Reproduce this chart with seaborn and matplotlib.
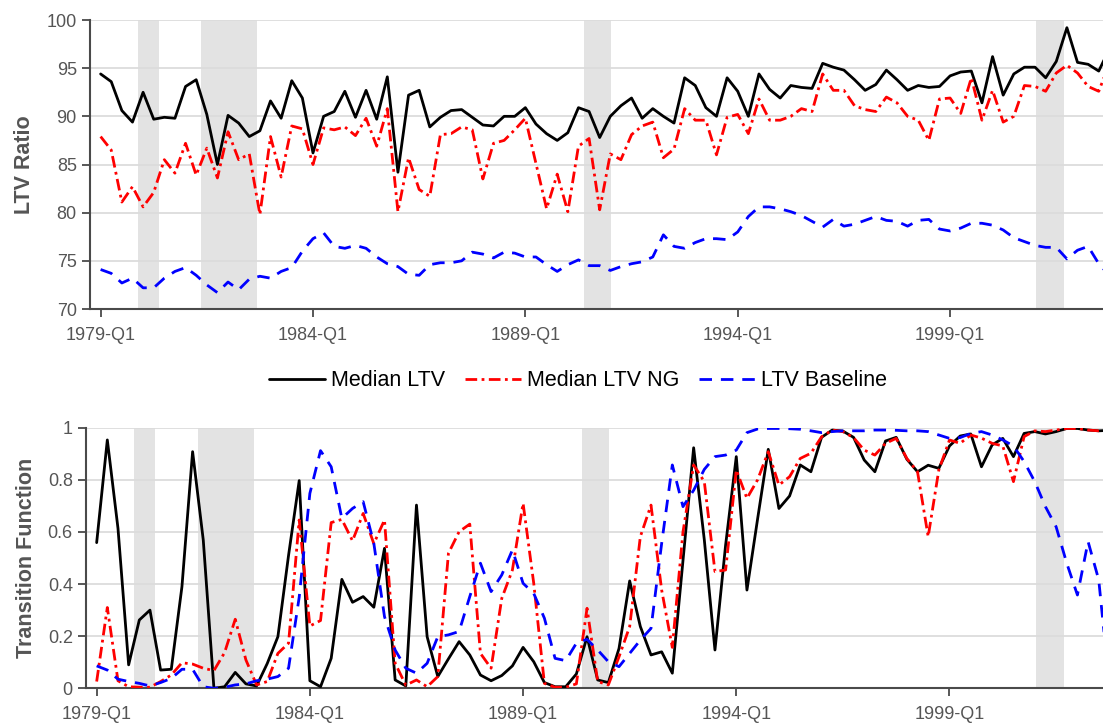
import numpy as np
import pandas as pd
import matplotlib
matplotlib.use("Agg")
import matplotlib.pyplot as plt
import seaborn as sns

# Quarterly series starting 1979-Q1
start_year = 1979

median_ltv = [94.4, 93.6, 90.6, 89.4, 92.5, 89.7, 89.9, 89.8, 93.1, 93.8,
              90.2, 85.0, 90.1, 89.3, 87.9, 88.5, 91.6, 89.8, 93.7, 91.9,
              86.2, 90.0, 90.5, 92.6, 89.9, 92.7, 89.7, 94.1, 84.2, 92.2,
              92.7, 88.9, 89.9, 90.6, 90.7, 89.9, 89.1, 89.0, 90.0, 90.0,
              90.9, 89.2, 88.2, 87.5, 88.3, 90.9, 90.5, 87.8, 90.0, 91.1,
              91.9, 89.8, 90.8, 90.0, 89.3, 94.0, 93.2, 90.9, 90.0, 94.0,
              92.6, 90.0, 94.4, 92.8, 91.9, 93.2, 93.0, 92.9, 95.5, 95.1,
              94.8, 93.8, 92.7, 93.3, 94.8, 93.8, 92.7, 93.2, 93.0, 93.1,
              94.2, 94.6, 94.7, 91.4, 96.2, 92.2, 94.4, 95.1, 95.1, 94.0,
              95.7, 99.2, 95.6, 95.4, 94.7, 97.0]

median_ltv_ng = [87.9, 86.5, 81.1, 82.7, 80.6, 82.1, 85.5, 84.1, 87.2, 83.9,
                 86.7, 83.6, 88.4, 85.5, 86.1, 79.8, 87.9, 83.7, 89.0, 88.7,
                 85.0, 88.8, 88.6, 88.9, 88.0, 89.8, 86.9, 90.8, 80.1, 85.7,
                 82.4, 81.7, 88.1, 88.2, 88.9, 88.6, 83.5, 87.2, 87.5, 88.6,
                 89.8, 85.1, 80.4, 84.0, 80.1, 86.9, 87.7, 80.3, 86.1, 85.5,
                 88.1, 89.0, 89.4, 85.7, 86.6, 90.8, 89.6, 89.6, 86.0, 89.9,
                 90.2, 88.2, 91.8, 89.6, 89.6, 90.0, 90.8, 90.5, 94.4, 92.7,
                 92.7, 91.1, 90.7, 90.5, 92.0, 91.4, 90.0, 89.6, 87.5, 91.8,
                 91.9, 90.3, 94.0, 89.6, 92.7, 89.4, 90.0, 93.2, 93.1, 92.6,
                 94.5, 95.3, 94.5, 93.1, 92.6, 95.5]

ltv_baseline = [74.1, 73.7, 72.7, 73.2, 72.2, 72.2, 73.2, 73.9, 74.3, 73.5,
                72.5, 71.7, 72.8, 72.0, 73.1, 73.4, 73.2, 73.9, 74.3, 76.0,
                77.3, 77.9, 76.5, 76.3, 76.6, 76.3, 75.4, 74.7, 74.4, 73.6,
                73.5, 74.6, 74.8, 74.8, 75.0, 75.9, 75.7, 75.3, 75.9, 75.8,
                75.4, 75.4, 74.6, 73.9, 74.6, 75.1, 74.5, 74.5, 74.0, 74.4,
                74.7, 74.9, 75.4, 77.7, 76.5, 76.3, 76.9, 77.3, 77.3, 77.2,
                78.0, 79.6, 80.6, 80.6, 80.4, 80.1, 79.7, 79.1, 78.5, 79.3,
                78.6, 78.8, 79.2, 79.6, 79.2, 79.1, 78.6, 79.2, 79.3, 78.3,
                78.1, 78.4, 78.9, 78.9, 78.7, 78.2, 77.4, 77.0, 76.6, 76.4,
                76.4, 75.2, 76.1, 76.5, 74.7, 73.5]

tf_median_ltv = [0.559, 0.953, 0.614, 0.090, 0.262, 0.300, 0.070, 0.073, 0.390, 0.908,
                 0.569, 0.000, 0.006, 0.061, 0.017, 0.009, 0.095, 0.198, 0.510, 0.797,
                 0.029, 0.006, 0.115, 0.418, 0.330, 0.352, 0.311, 0.537, 0.032, 0.009,
                 0.703, 0.198, 0.045, 0.113, 0.179, 0.128, 0.051, 0.029, 0.049, 0.086,
                 0.157, 0.102, 0.022, 0.006, 0.006, 0.055, 0.198, 0.032, 0.022, 0.153,
                 0.412, 0.237, 0.128, 0.140, 0.058, 0.490, 0.923, 0.570, 0.147, 0.550,
                 0.889, 0.377, 0.650, 0.917, 0.690, 0.738, 0.857, 0.831, 0.963, 0.991,
                 0.987, 0.963, 0.876, 0.831, 0.949, 0.963, 0.879, 0.831, 0.856, 0.844,
                 0.930, 0.968, 0.976, 0.850, 0.934, 0.959, 0.889, 0.978, 0.985, 0.976,
                 0.985, 0.997, 0.997, 0.991, 0.988, 0.990]

tf_median_ltv_ng = [0.026, 0.310, 0.029, 0.006, 0.004, 0.004, 0.026, 0.051, 0.098, 0.093,
                    0.077, 0.068, 0.137, 0.265, 0.109, 0.013, 0.026, 0.134, 0.173, 0.646,
                    0.239, 0.260, 0.636, 0.648, 0.566, 0.671, 0.555, 0.646, 0.096, 0.012,
                    0.032, 0.006, 0.045, 0.518, 0.601, 0.630, 0.134, 0.077, 0.345, 0.454,
                    0.710, 0.403, 0.019, 0.004, 0.004, 0.017, 0.307, 0.026, 0.013, 0.121,
                    0.237, 0.582, 0.703, 0.377, 0.157, 0.600, 0.857, 0.793, 0.448, 0.454,
                    0.838, 0.729, 0.800, 0.908, 0.780, 0.812, 0.882, 0.902, 0.965, 0.991,
                    0.985, 0.962, 0.914, 0.895, 0.940, 0.959, 0.882, 0.831, 0.582, 0.838,
                    0.953, 0.940, 0.972, 0.960, 0.940, 0.930, 0.793, 0.966, 0.988, 0.985,
                    0.991, 0.997, 0.997, 0.991, 0.988, 0.990]

tf_ltv_baseline = [0.086, 0.070, 0.035, 0.026, 0.019, 0.009, 0.022, 0.038, 0.073, 0.073,
                   0.006, 0.000, 0.004, 0.013, 0.017, 0.029, 0.035, 0.045, 0.077, 0.350,
                   0.748, 0.912, 0.850, 0.652, 0.690, 0.716, 0.556, 0.275, 0.147, 0.077,
                   0.058, 0.096, 0.198, 0.205, 0.218, 0.352, 0.480, 0.371, 0.435, 0.531,
                   0.403, 0.364, 0.269, 0.115, 0.106, 0.173, 0.188, 0.147, 0.102, 0.083,
                   0.134, 0.185, 0.230, 0.556, 0.857, 0.697, 0.760, 0.840, 0.889, 0.895,
                   0.914, 0.981, 0.995, 0.997, 0.997, 0.996, 0.994, 0.988, 0.981, 0.985,
                   0.988, 0.988, 0.988, 0.991, 0.991, 0.990, 0.988, 0.988, 0.985, 0.972,
                   0.959, 0.962, 0.978, 0.985, 0.972, 0.953, 0.930, 0.870, 0.793, 0.697,
                   0.620, 0.480, 0.358, 0.563, 0.416, 0.010]

# Recession periods, in quarters since 1979-Q1
recessions = [(3.5, 5.5), (9.5, 14.75), (45.5, 48.1), (88.1, 90.75)]

# Labelled quarters on the time axis
tick_quarters = [0, 20, 40, 60, 80]
tick_labels = [f"{start_year + q // 4}-Q{q % 4 + 1}" for q in tick_quarters]

n = len(median_ltv)
quarter = np.arange(n)

top = pd.DataFrame({"q": quarter, "Median LTV": median_ltv,
                    "Median LTV NG": median_ltv_ng, "LTV Baseline": ltv_baseline})
bottom = pd.DataFrame({"q": quarter, "Median LTV": tf_median_ltv,
                       "Median LTV NG": tf_median_ltv_ng, "LTV Baseline": tf_ltv_baseline})

sns.set_theme(style="white")
plt.rcParams["font.family"] = ["Liberation Sans", "DejaVu Sans"]

series_style = {
    "Median LTV": dict(color="black", linestyle="-"),
    "Median LTV NG": dict(color="#ff0000", linestyle=(0, (4.2, 1.6, 1.0, 1.6))),
    "LTV Baseline": dict(color="#0000ff", linestyle=(0, (4.5, 3.2))),
}

fig = plt.figure(figsize=(11.03, 7.28), dpi=100)
ax_top = fig.add_axes([90 / 1103, 1 - 309 / 728, 1013 / 1103, 289 / 728])
ax_bot = fig.add_axes([86 / 1103, 1 - 688.3 / 728, 1017 / 1103, 260.6 / 728])

axis_grey = "#4a4a4a"
label_grey = "#555555"


def style_axis(ax, yticks, yticklabels, ylim, ylabel):
    for a, b in recessions:
        ax.axvspan(a, b, color="#e3e3e3", lw=0, zorder=0)
    for y in yticks:
        ax.axhline(y, color="#dcdcdc", lw=1.3, zorder=0.5)
    ax.set_xlim(-1, 94.4)
    ax.set_ylim(*ylim)
    ax.set_yticks(yticks)
    ax.set_yticklabels(yticklabels)
    ax.set_xticks(tick_quarters)
    ax.set_xticklabels(tick_labels)
    ax.set_xlabel("")
    ax.set_ylabel(ylabel, fontsize=15.5, fontweight="bold", color=label_grey, labelpad=8)
    for side in ("top", "right"):
        ax.spines[side].set_visible(False)
    for side in ("left", "bottom"):
        ax.spines[side].set_color(axis_grey)
        ax.spines[side].set_linewidth(1.5)
    ax.tick_params(axis="both", direction="out", length=6, width=1.3, color=axis_grey,
                   labelcolor=label_grey, labelsize=13, left=True, bottom=True)
    ax.tick_params(axis="x", pad=7)
    ax.grid(False)


for ax, df in ((ax_top, top), (ax_bot, bottom)):
    for name, st in series_style.items():
        sns.lineplot(data=df, x="q", y=name, ax=ax, color=st["color"],
                     linestyle=st["linestyle"], linewidth=2.0, label=name,
                     legend=False, zorder=3)

style_axis(ax_top, [70, 75, 80, 85, 90, 95, 100],
           ["70", "75", "80", "85", "90", "95", "100"], (70, 100), "LTV Ratio")
style_axis(ax_bot, [0, 0.2, 0.4, 0.6, 0.8, 1.0],
           ["0", "0.2", "0.4", "0.6", "0.8", "1"], (0, 1), "Transition Function")

handles = ax_top.get_lines()[:3]
fig.legend(handles, list(series_style.keys()), loc="center", ncol=3,
           bbox_to_anchor=(578 / 1103, 1 - 381 / 728), frameon=False,
           fontsize=15.5, handlelength=2.6, handletextpad=0.3, columnspacing=0.9,
           labelcolor="black")

fig.savefig("out.png", dpi=100)
